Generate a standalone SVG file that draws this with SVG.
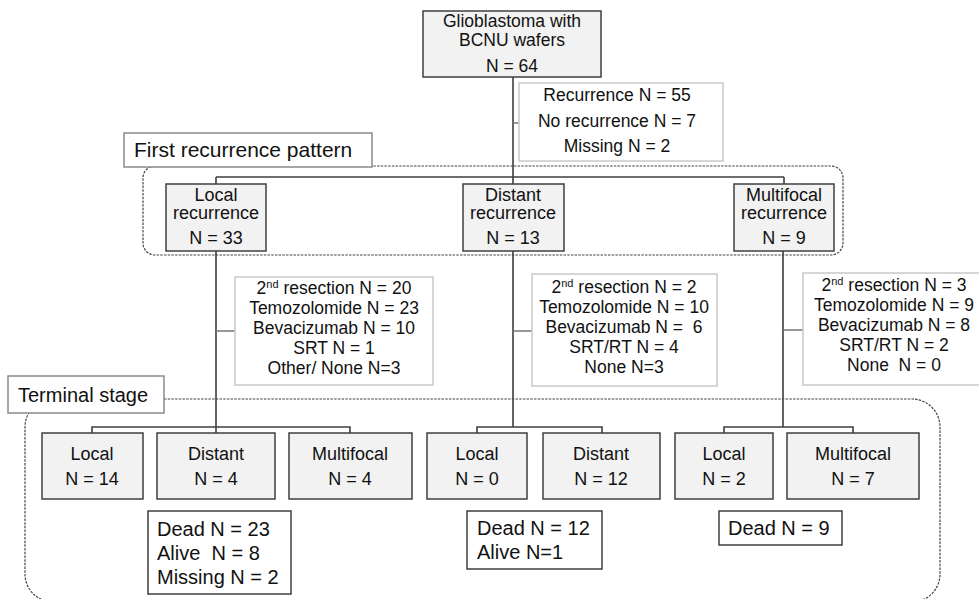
<svg xmlns="http://www.w3.org/2000/svg" width="979" height="599" viewBox="0 0 979 599">
<style>
text{font-family:"Liberation Sans",Arial,sans-serif;fill:#111;}
.c{text-anchor:middle;}
.f175{font-size:17.5px;}
.f18{font-size:18px;}
.f20{font-size:20px;}
.node{fill:#f2f2f2;stroke:#3f3f3f;stroke-width:1.5;}
.info{fill:#fff;stroke:#c9c9c9;stroke-width:1.5;}
.label{fill:#fff;stroke:#8a8a8a;stroke-width:1.5;}
.out{fill:#fff;stroke:#3f3f3f;stroke-width:1.5;}
.region{fill:none;stroke:#444;stroke-width:1.2;stroke-dasharray:2.5 1.2;}
.ln{fill:none;stroke:#3f3f3f;stroke-width:1.6;}
.tk{fill:none;stroke:#777;stroke-width:1.5;}
</style>
<g id="regions">
<rect class="region" x="143" y="166" width="700" height="89" rx="12"/>
<rect class="region" x="25" y="399" width="915" height="203" rx="28"/>
</g>
<g id="connectors">
<path class="ln" d="M513 77V184M216 177H784M216 177V184M784 177V184"/>
<path class="tk" d="M513 123H519"/>
<path class="ln" d="M216 251V433M513 251V427M783 251V427"/>
<path class="tk" d="M216 331H235M513 331H532M783 330H803"/>
<path class="ln" d="M92 433V427H350V433"/>
<path class="ln" d="M477 433V427H602V433"/>
<path class="ln" d="M724 433V427H853V433"/>
</g>
<g id="label-first">
<rect class="label" x="124" y="133" width="248" height="34"/>
<text x="134" y="156.5" font-size="21">First recurrence pattern</text>
</g>
<g id="label-terminal">
<rect class="label" x="8" y="376" width="156" height="37"/>
<text x="18" y="402" font-size="20">Terminal stage</text>
</g>
<g id="root">
<rect class="node" x="423" y="11" width="178" height="66"/>
<text class="c f175" x="512" y="27">Glioblastoma with</text>
<text class="c f175" x="512" y="46">BCNU wafers</text>
<text class="c f175" x="512" y="72">N = 64</text>
</g>
<g id="recurrence-info">
<rect class="info" x="519" y="83" width="204" height="78"/>
<text class="c f175" x="617" y="101">Recurrence N = 55</text>
<text class="c f175" x="617" y="126.5">No recurrence N = 7</text>
<text class="c f175" x="617" y="151.5">Missing N = 2</text>
</g>
<g id="local-recurrence">
<rect class="node" x="166" y="184" width="100" height="67"/>
<text class="c f18" x="216" y="200.5">Local</text>
<text class="c f18" x="216" y="219">recurrence</text>
<text class="c f18" x="216" y="244">N = 33</text>
</g>
<g id="distant-recurrence">
<rect class="node" x="463" y="184" width="101" height="67"/>
<text class="c f18" x="513" y="200.5">Distant</text>
<text class="c f18" x="513" y="219">recurrence</text>
<text class="c f18" x="513" y="244">N = 13</text>
</g>
<g id="multifocal-recurrence">
<rect class="node" x="734" y="184" width="100" height="67"/>
<text class="c f18" x="784" y="200.5">Multifocal</text>
<text class="c f18" x="784" y="219">recurrence</text>
<text class="c f18" x="784" y="244">N = 9</text>
</g>
<g id="treat-local">
<rect class="info" x="235" y="277" width="198" height="108"/>
<text class="c f175" x="334" y="294">2<tspan font-size="11" dy="-6">nd</tspan><tspan dy="6"> resection N = 20</tspan></text>
<text class="c f175" x="334" y="314">Temozolomide N = 23</text>
<text class="c f175" x="334" y="334">Bevacizumab N = 10</text>
<text class="c f175" x="334" y="354">SRT N = 1</text>
<text class="c f175" x="334" y="374">Other/ None N=3</text>
</g>
<g id="treat-distant">
<rect class="info" x="532" y="274" width="185" height="112"/>
<text class="c f175" x="624" y="293">2<tspan font-size="11" dy="-6">nd</tspan><tspan dy="6"> resection N = 2</tspan></text>
<text class="c f175" x="624" y="313">Temozolomide N = 10</text>
<text class="c f175" x="624" y="333" xml:space="preserve">Bevacizumab N =  6</text>
<text class="c f175" x="624" y="353">SRT/RT N = 4</text>
<text class="c f175" x="624" y="373">None N=3</text>
</g>
<g id="treat-multifocal">
<rect class="info" x="803" y="273" width="185" height="112"/>
<text class="c f175" x="894" y="291">2<tspan font-size="11" dy="-6">nd</tspan><tspan dy="6"> resection N = 3</tspan></text>
<text class="c f175" x="894" y="311">Temozolomide N = 9</text>
<text class="c f175" x="894" y="331">Bevacizumab N = 8</text>
<text class="c f175" x="894" y="351">SRT/RT N = 2</text>
<text class="c f175" x="894" y="371" xml:space="preserve">None  N = 0</text>
</g>
<g id="t-local-local">
<rect class="node" x="42" y="433" width="101" height="66"/>
<text class="c f18" x="92" y="459.5">Local</text>
<text class="c f18" x="92" y="485">N = 14</text>
</g>
<g id="t-local-distant">
<rect class="node" x="157" y="433" width="118" height="66"/>
<text class="c f18" x="216" y="459.5">Distant</text>
<text class="c f18" x="216" y="485">N = 4</text>
</g>
<g id="t-local-multifocal">
<rect class="node" x="289" y="433" width="123" height="66"/>
<text class="c f18" x="350" y="459.5">Multifocal</text>
<text class="c f18" x="350" y="485">N = 4</text>
</g>
<g id="t-distant-local">
<rect class="node" x="427" y="433" width="100" height="66"/>
<text class="c f18" x="477" y="459.5">Local</text>
<text class="c f18" x="477" y="485">N = 0</text>
</g>
<g id="t-distant-distant">
<rect class="node" x="543" y="433" width="117" height="66"/>
<text class="c f18" x="601" y="459.5">Distant</text>
<text class="c f18" x="601" y="485">N = 12</text>
</g>
<g id="t-multi-local">
<rect class="node" x="675" y="433" width="98" height="66"/>
<text class="c f18" x="724" y="459.5">Local</text>
<text class="c f18" x="724" y="485">N = 2</text>
</g>
<g id="t-multi-multifocal">
<rect class="node" x="787" y="433" width="132" height="66"/>
<text class="c f18" x="853" y="459.5">Multifocal</text>
<text class="c f18" x="853" y="485">N = 7</text>
</g>
<g id="outcome-local">
<rect class="out" x="148" y="511" width="143" height="83"/>
<text class="f20" x="157" y="536">Dead N = 23</text>
<text class="f20" x="157" y="560" xml:space="preserve">Alive  N = 8</text>
<text class="f20" x="157" y="584">Missing N = 2</text>
</g>
<g id="outcome-distant">
<rect class="out" x="467" y="511" width="135" height="58"/>
<text class="f20" x="477" y="535">Dead N = 12</text>
<text class="f20" x="477" y="559">Alive N=1</text>
</g>
<g id="outcome-multifocal">
<rect class="out" x="719" y="511" width="123" height="34"/>
<text class="f20" x="728" y="535">Dead N = 9</text>
</g>
</svg>
